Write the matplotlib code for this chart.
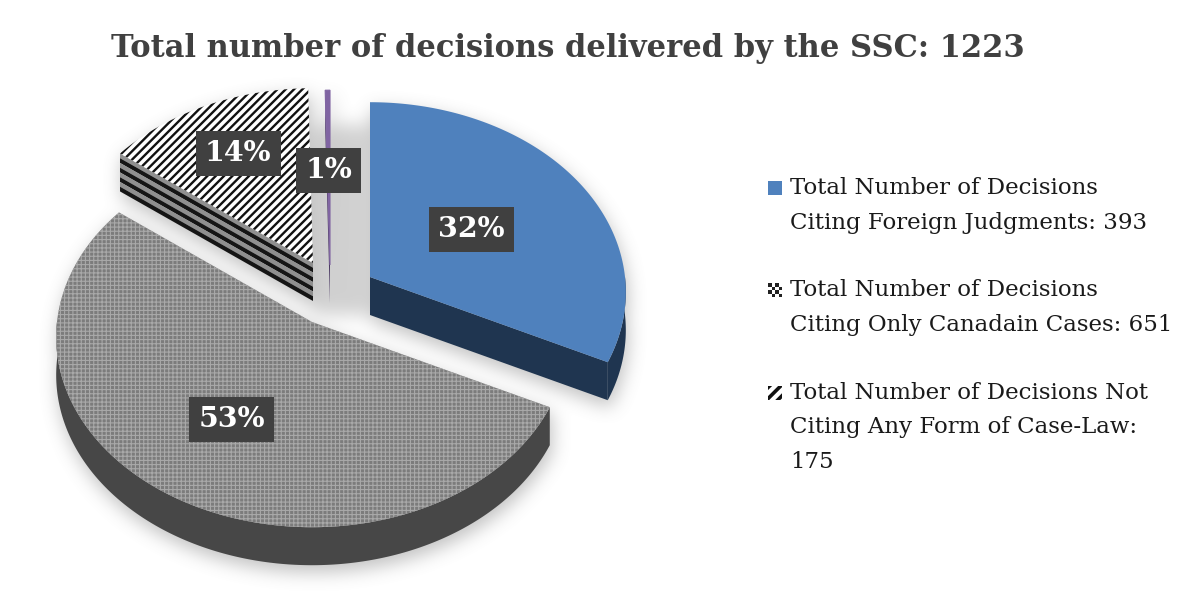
import numpy as np
import matplotlib
matplotlib.use("Agg")
import matplotlib.pyplot as plt
from matplotlib.patches import Polygon, Rectangle
from matplotlib.path import Path

# ---------------- data ----------------
title = "Total number of decisions delivered by the SSC: 1223"
categories = [
    "Total Number of Decisions\nCiting Foreign Judgments: 393",
    "Total Number of Decisions\nCiting Only Canadain Cases: 651",
    "Total Number of Decisions Not\nCiting Any Form of Case-Law:\n175",
    "Other",
]
values = [393, 651, 175, 4]
pct_labels = ["32%", "53%", "14%", "1%"]
in_legend = [True, True, True, False]

# ---------------- layout / style ----------------
W, H = 1200, 603
RX, RY, EPS, DEPTH = 255, 190, 0.08, 38
slice_centers = [(370, 277), (312, 322), (313, 263), (330, 265)]
label_r = [0.48, 0.58, 0.68, 0.52]
top_colors = ["#4f81bd", "#7c7c7c", "#ffffff", "#8064a2"]
top_hatch = [None, "++++", "////", None]
top_hatch_col = ["#4f81bd", "#a9a9a9", "#111111", "#8064a2"]
top_hatch_lw = [0.5, 0.8, 1.7, 0.5]
side_colors = ["#1f3550", "#474747", "#8f8f8f", "#4b3a63"]
side_stripes = [0, 0, 8, 0]
side_stripe_col = "#151515"
draw_order = [3, 2, 0, 1]
SERIF = ["DejaVu Serif"]

fig = plt.figure(figsize=(W / 100, H / 100), dpi=100)
ax = fig.add_axes([0, 0, 1, 1])


def proj(cx, cy, th, r=1.0, dz=0.0):
    t = np.radians(th)
    c = np.cos(t)
    s = 1 - EPS * c * r
    return cx + RX * r * np.sin(t) * s, cy - RY * r * c * s + dz


def arc(cx, cy, a, b, dz=0.0):
    n = max(int(abs(b - a) * 1.5), 3)
    th = np.linspace(a, b, n)
    x, y = proj(cx, cy, th, 1.0, dz)
    return np.column_stack([x, y])


def wall_bands(top_pts, nb):
    """Split a wall (top edge polyline extruded by DEPTH) into nb bands."""
    out = []
    for k in range(nb):
        d0, d1 = DEPTH * k / nb, DEPTH * (k + 1) / nb
        up = top_pts + np.array([0, d0])
        dn = (top_pts + np.array([0, d1]))[::-1]
        out.append((np.vstack([up, dn]), k % 2 == 1))
    return out


total = float(sum(values))
bounds = np.concatenate([[0], np.cumsum(values)]) / total * 360.0

shapes = []
for i in range(len(values)):
    a, b = bounds[i], bounds[i + 1]
    cx, cy = slice_centers[i]
    polys = []  # (pts, facecolor, hatch, hatchcolor, hatch_lw)
    edges = []
    lo, hi = max(a, 90), min(b, 270)
    if hi > lo:
        edges.append(arc(cx, cy, lo, hi))
    for th, vis in ((a, np.sin(np.radians(a)) < -1e-6), (b, np.sin(np.radians(b)) > 1e-6)):
        if vis:
            p = proj(cx, cy, th)
            edges.append(np.array([[cx, cy], p]))
    for e in edges:
        if side_stripes[i]:
            for pts, dark in wall_bands(e, side_stripes[i]):
                polys.append((pts, side_stripe_col if dark else side_colors[i], None, "none", 0))
        else:
            pts = np.vstack([e, (e + np.array([0, DEPTH]))[::-1]])
            polys.append((pts, side_colors[i], None, "none", 0))
    topface = np.vstack([[[cx, cy]], arc(cx, cy, a, b)])
    polys.append((topface, top_colors[i], top_hatch[i], top_hatch_col[i], top_hatch_lw[i]))
    shapes.append(polys)

# ---------------- soft shadow ----------------
gx, gy = np.meshgrid(np.arange(W) + 0.5, np.arange(H) + 0.5)
pts_grid = np.column_stack([gx.ravel(), gy.ravel()])
mask = np.zeros(W * H)
for polys in shapes:
    for pts, *_ in polys:
        sh = pts + np.array([2, 7])
        mask = np.maximum(mask, Path(sh).contains_points(pts_grid).astype(float))
bx0, bx1 = slice_centers[2][0], slice_centers[0][0]
by0 = slice_centers[0][1] - RY * 0.80
by1 = slice_centers[0][1] + DEPTH
inner = Path([[bx0, by0], [bx1, by0], [bx1, by1], [bx0, by1]])
mask = np.maximum(mask, 0.75 * inner.contains_points(pts_grid))
mask = mask.reshape(H, W)


def box_blur(a, r):
    for axis in (0, 1):
        padw = [(r + 1, r) if k == axis else (0, 0) for k in range(2)]
        c = np.cumsum(np.pad(a, padw, mode="edge"), axis=axis)
        if axis == 0:
            a = (c[2 * r + 1:] - c[:-2 * r - 1]) / (2 * r + 1)
        else:
            a = (c[:, 2 * r + 1:] - c[:, :-2 * r - 1]) / (2 * r + 1)
    return a


blur = mask
for _ in range(3):
    blur = box_blur(blur, 8)
rgba = np.zeros((H, W, 4))
rgba[..., :3] = 0.5
rgba[..., 3] = np.clip(blur, 0, 1) * 0.48
ax.imshow(rgba, extent=(0, W, H, 0), origin="upper", zorder=0, interpolation="bilinear")
ax.set_xlim(0, W)
ax.set_ylim(H, 0)
ax.axis("off")

# ---------------- slices ----------------
z = 2
for i in draw_order:
    for pts, fc, hatch, hcol, hlw in shapes[i]:
        lw = 0.8 if i == 3 else 0.0
        pg = Polygon(pts, closed=True, facecolor=fc, edgecolor=hcol if hatch or i == 3 else fc,
                     hatch=hatch, linewidth=lw, zorder=z)
        if hatch and hasattr(pg, "set_hatch_linewidth"):
            pg.set_hatch_linewidth(hlw)
        ax.add_patch(pg)
        z += 1

# ---------------- data labels ----------------
for i in range(len(values)):
    a, b = bounds[i], bounds[i + 1]
    cx, cy = slice_centers[i]
    lx, ly = proj(cx, cy, (a + b) / 2, label_r[i])
    ax.text(lx, ly, pct_labels[i], ha="center", va="center", color="white",
            fontsize=20.5, fontweight="bold", family=SERIF, zorder=50,
            bbox=dict(boxstyle="square,pad=0.32", fc="#404040", ec="none"))

# ---------------- title ----------------
ax.text(568, 48, title, ha="center", va="center", fontsize=22, fontweight="bold",
        color="#404040", family=SERIF, zorder=60)

# ---------------- legend ----------------
leg_x, leg_tx = 775, 790
leg_y0 = [188, 290, 393]
pitch = 34.5
k = 0
for i in range(len(values)):
    if not in_legend[i]:
        continue
    y0 = leg_y0[k]
    k += 1
    if i == 1:
        n = 4
        s = 14 / n
        for u in range(n):
            for v in range(n):
                ax.add_patch(Rectangle((leg_x - 7 + u * s, y0 - 7 + v * s), s, s,
                                       facecolor="#222222" if (u + v) % 2 == 0 else "#ffffff",
                                       linewidth=0, zorder=60))
    elif i == 2:
        r = Rectangle((leg_x - 7, y0 - 7), 14, 14, facecolor="white", edgecolor="#111111",
                      hatch="///", linewidth=0, zorder=60)
        if hasattr(r, "set_hatch_linewidth"):
            r.set_hatch_linewidth(2.6)
        ax.add_patch(r)
    else:
        ax.add_patch(Rectangle((leg_x - 7, y0 - 7), 14, 14, facecolor=top_colors[i],
                               linewidth=0, zorder=60))
    for j, line in enumerate(categories[i].split("\n")):
        ax.text(leg_tx, y0 + j * pitch, line, ha="left", va="center", fontsize=16.5,
                color="#1a1a1a", family=SERIF, zorder=60)

fig.savefig("out.png", dpi=100)
